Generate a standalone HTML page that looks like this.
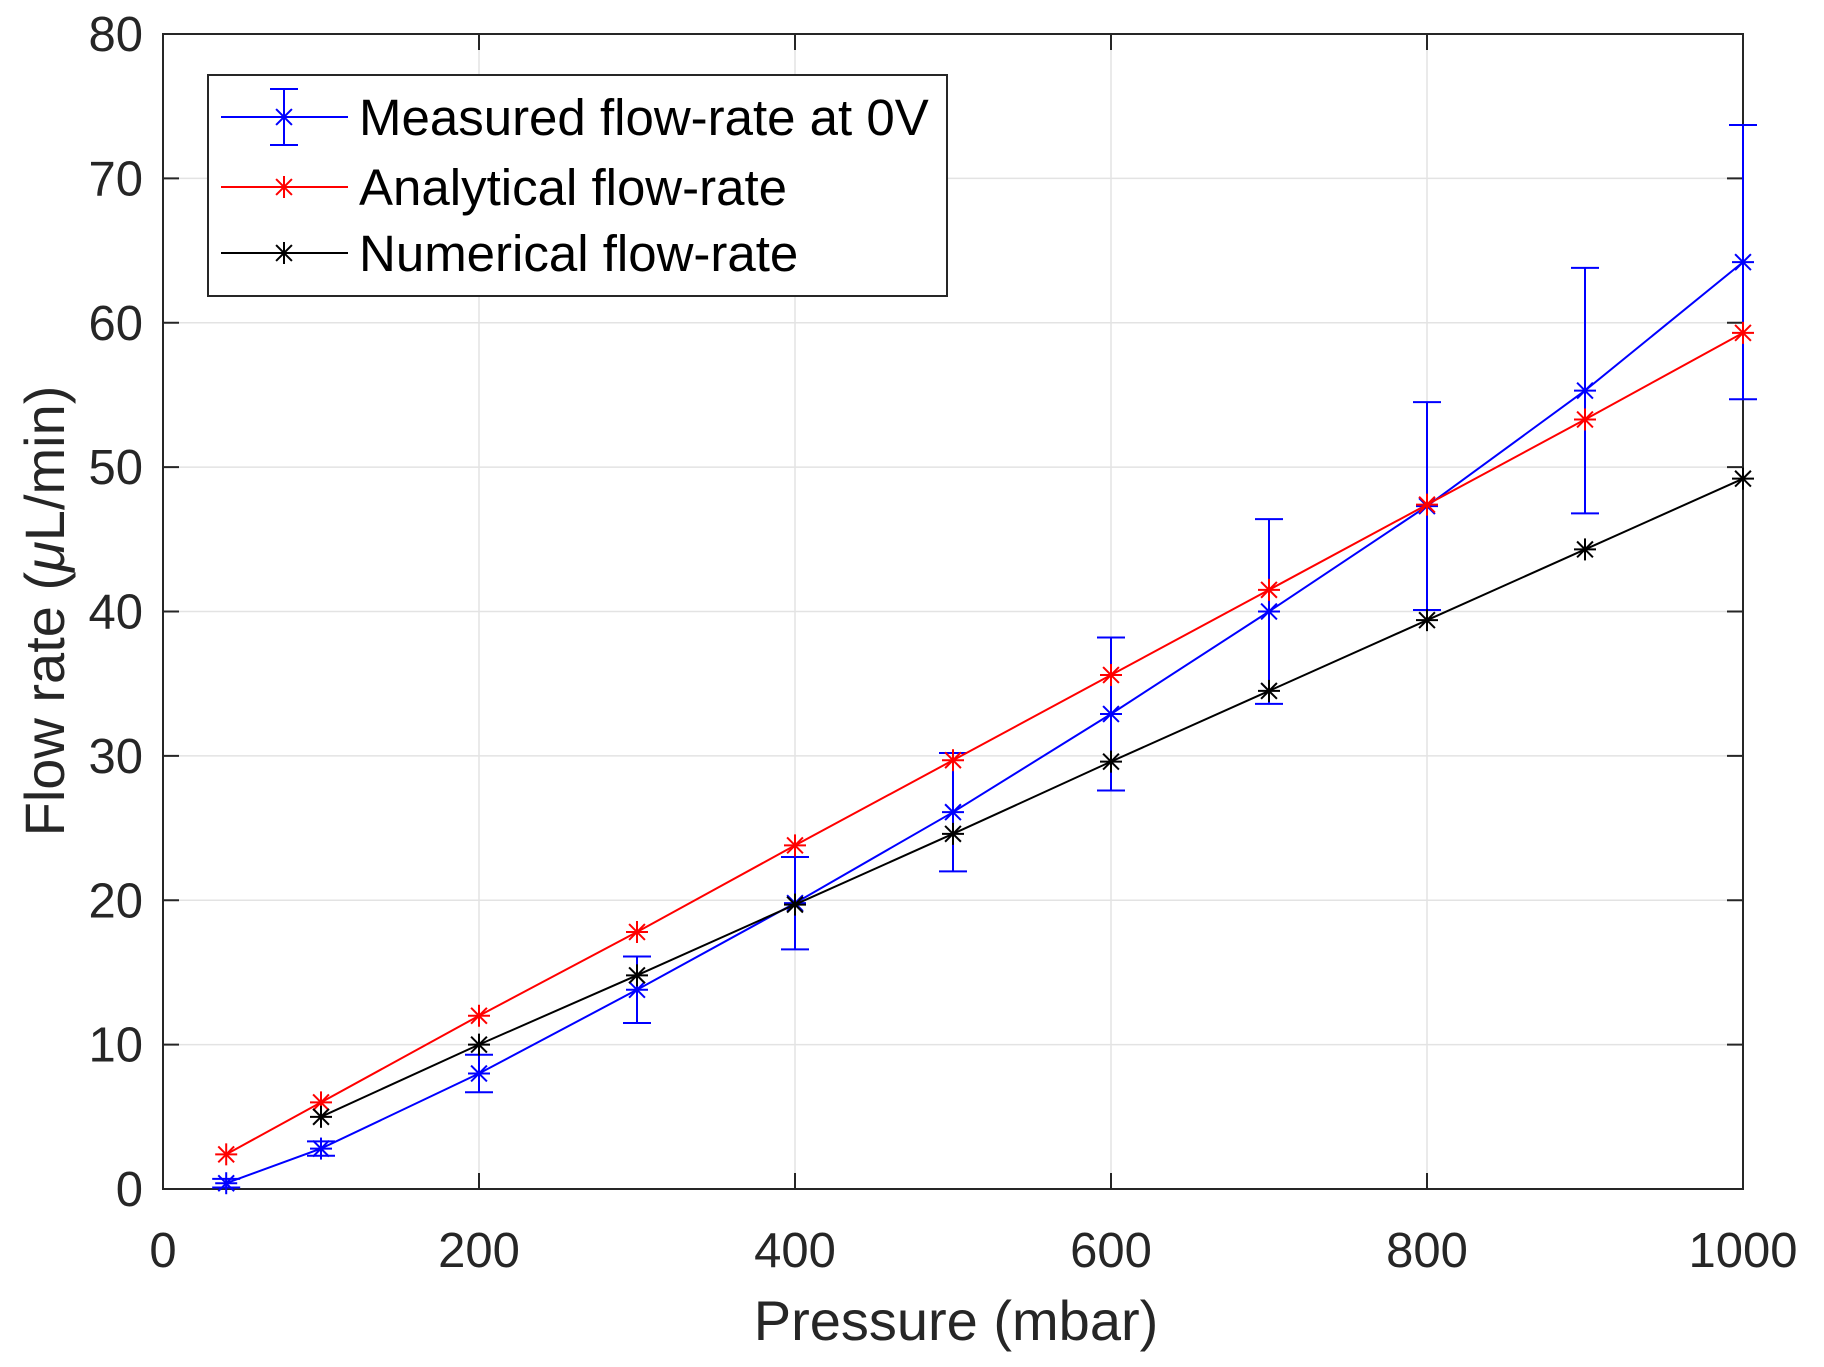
<!DOCTYPE html>
<html><head><meta charset="utf-8"><style>
html,body{margin:0;padding:0;background:#fff;}
svg{display:block;font-family:"Liberation Sans",Arial,sans-serif;}
</style></head><body>
<svg id="chart" width="1824" height="1367" viewBox="0 0 1824 1367">
<rect width="1824" height="1367" fill="#fff"/>
<g id="grid"></g>
<rect x="163" y="34" width="1580" height="1155" fill="none" stroke="#262626" stroke-width="2"/>
<g id="axes"></g>
<g id="series"></g>
<text x="956" y="1340" font-size="56" fill="#262626" text-anchor="middle">Pressure (mbar)</text>
<text transform="translate(64,611) rotate(-90)" font-size="56" fill="#262626" text-anchor="middle">Flow rate (<tspan font-style="italic">μ</tspan>L/min)</text>
<g id="legend">
<rect x="208" y="75" width="739" height="221" fill="#fff" stroke="#262626" stroke-width="2"/>
</g>
</svg>
<script>
const xValues = [40,100,200,300,400,500,600,700,800,900,1000];
const measured = [0.4,2.8,8.0,13.8,19.8,26.1,32.9,40.0,47.3,55.3,64.2];
const measuredErr = [0.3,0.5,1.3,2.3,3.2,4.1,5.3,6.4,7.2,8.5,9.5];
const analytical = [2.4,6.0,12.0,17.8,23.8,29.7,35.6,41.5,47.4,53.3,59.3];
const numX = [100,200,300,400,500,600,700,800,900,1000];
const numerical = [5.0,10.0,14.8,19.7,24.6,29.6,34.5,39.4,44.3,49.2];
const xTicks = [0,200,400,600,800,1000];
const yTicks = [0,10,20,30,40,50,60,70,80];

const NS="http://www.w3.org/2000/svg";
const X0=163,X1=1743,Y0=1189,Y1=34;
const sx=v=>X0+(v/1000)*(X1-X0);
const sy=v=>Y0-(v/80)*(Y0-Y1);
function mk(tag,attrs,parent){const e=document.createElementNS(NS,tag);for(const k in attrs)e.setAttribute(k,attrs[k]);parent.appendChild(e);return e;}
const grid=document.getElementById('grid'),axes=document.getElementById('axes'),series=document.getElementById('series'),legend=document.getElementById('legend');

xTicks.forEach(t=>{
  const g=mk('line',{x1:sx(t),x2:sx(t),y1:Y1,y2:Y0,stroke:'#e3e3e3','stroke-width':1.5},grid);
  
  
  const tk=mk('line',{x1:sx(t),x2:sx(t),y1:Y0,y2:Y0-16,stroke:'#262626','stroke-width':2},axes);
  
  
  const tk2=mk('line',{x1:sx(t),x2:sx(t),y1:Y1,y2:Y1+16,stroke:'#262626','stroke-width':2},axes);
  
  
  const tx=mk('text',{x:sx(t),y:1267,'font-size':49,fill:'#262626','text-anchor':'middle'},axes);
  tx.textContent=t;
  
  
});
yTicks.forEach(t=>{
  const g=mk('line',{x1:X0,x2:X1,y1:sy(t),y2:sy(t),stroke:'#e3e3e3','stroke-width':1.5},grid);
  
  
  const tk=mk('line',{x1:X0,x2:X0+16,y1:sy(t),y2:sy(t),stroke:'#262626','stroke-width':2},axes);
  
  
  const tk2=mk('line',{x1:X1,x2:X1-16,y1:sy(t),y2:sy(t),stroke:'#262626','stroke-width':2},axes);
  
  
  const tx=mk('text',{x:143,y:sy(t)+17,'font-size':49,fill:'#262626','text-anchor':'end'},axes);
  tx.textContent=t;
  
  
});

function star(cx,cy,color,parent,r){
  r=r||11;
  const g=mk('g',{stroke:color,'stroke-width':2},parent);
  mk('line',{x1:cx-r,x2:cx+r,y1:cy,y2:cy},g);
  mk('line',{x1:cx,x2:cx,y1:cy-r,y2:cy+r},g);
  const d=r*0.72;
  mk('line',{x1:cx-d,x2:cx+d,y1:cy-d,y2:cy+d},g);
  mk('line',{x1:cx-d,x2:cx+d,y1:cy+d,y2:cy-d},g);
  return g;
}
function drawSeries(xs,ys,color,name){
  const pts=xs.map((x,i)=>sx(x)+','+sy(ys[i])).join(' ');
  const pl=mk('polyline',{points:pts,fill:'none',stroke:color,'stroke-width':2},series);
  
  
  xs.forEach((x,i)=>{
    const s=star(sx(x),sy(ys[i]),color,series);
    
    
  });
}
xValues.forEach((x,i)=>{
  const cx=sx(x),t=sy(measured[i]+measuredErr[i]),b=sy(measured[i]-measuredErr[i]);
  const g=mk('g',{stroke:'#0000ff','stroke-width':2},series);
  
  
  mk('line',{x1:cx,x2:cx,y1:t,y2:b},g);
  mk('line',{x1:cx-14,x2:cx+14,y1:t,y2:t},g);
  mk('line',{x1:cx-14,x2:cx+14,y1:b,y2:b},g);
});
drawSeries(xValues,measured,'#0000ff','measured');
drawSeries(xValues,analytical,'#ff0000','analytical');
drawSeries(numX,numerical,'#000000','numerical');

const entries=[['Measured flow-rate at 0V','#0000ff',117,true],['Analytical flow-rate','#ff0000',187,false],['Numerical flow-rate','#000000',253,false]];
entries.forEach(([label,color,y,err])=>{
  const g=mk('g',{},legend);
  
  
  mk('line',{x1:221,x2:348,y1:y,y2:y,stroke:color,'stroke-width':2},g);
  if(err){
    const e=mk('g',{stroke:color,'stroke-width':2},g);
    mk('line',{x1:284,x2:284,y1:y-28,y2:y+28},e);
    mk('line',{x1:270,x2:298,y1:y-28,y2:y-28},e);
    mk('line',{x1:270,x2:298,y1:y+28,y2:y+28},e);
  }
  star(284,y,color,g);
  const tx=mk('text',{x:359,y:y+18,'font-size':51,fill:'#000'},g);
  tx.textContent=label;
});
</script>
</body></html>
